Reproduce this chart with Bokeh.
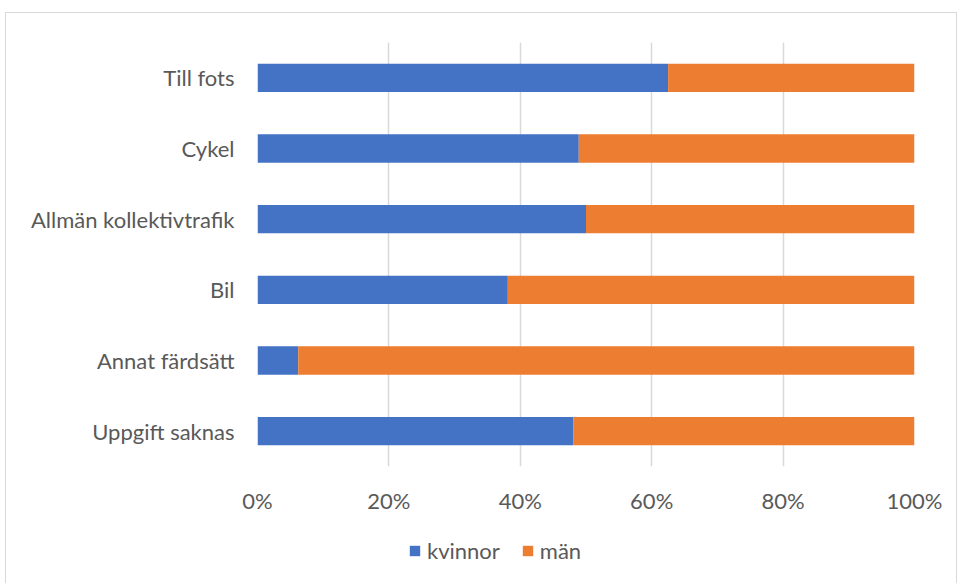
from bokeh.plotting import figure
from bokeh.layouts import column
from bokeh.models import ColumnDataSource, FactorRange, Range1d, FixedTicker, PrintfTickFormatter, Legend, LegendItem
from bokeh.embed import file_html
from bokeh.resources import INLINE

categories = ["Till fots", "Cykel", "Allmän kollektivtrafik", "Bil", "Annat färdsätt", "Uppgift saknas"]
kvinnor = [62.5, 48.9, 50.0, 38.1, 6.2, 48.1]
man = [37.5, 51.1, 50.0, 61.9, 93.8, 51.9]
series_names = ["kvinnor", "män"]
colors = ["#4472C4", "#ED7D31"]
x_ticks = [0, 20, 40, 60, 80, 100]

FONT = "Lato"
TXT = "#595959"

source = ColumnDataSource(data=dict(cat=categories, kvinnor=kvinnor, man=man))

p = figure(
    y_range=FactorRange(*categories[::-1], range_padding=0),
    x_range=Range1d(0, 100),
    frame_width=657, frame_height=424,
    min_border_left=251, min_border_right=42, min_border_top=29, min_border_bottom=0,
    output_backend="svg", toolbar_location=None,
)
p.y_range.factor_padding = 0
p.outline_line_color = None

r = p.hbar_stack(["kvinnor", "man"], y="cat", height=0.40, color=colors, source=source,
                 line_width=0)

p.xaxis.ticker = FixedTicker(ticks=x_ticks)
p.xaxis.formatter = PrintfTickFormatter(format="%d%%")
p.xgrid.ticker = FixedTicker(ticks=x_ticks)
p.xgrid.grid_line_color = "#d9d9d9"
p.xgrid.grid_line_width = 1.5
p.ygrid.grid_line_color = None

for ax in (p.xaxis[0], p.yaxis[0]):
    ax.axis_line_color = None
    ax.major_tick_line_color = None
    ax.minor_tick_line_color = None
    ax.major_label_text_font = FONT
    ax.major_label_text_font_size = "22px"
    ax.major_label_text_color = TXT
    ax.major_tick_out = 0
    ax.major_tick_in = 0
p.xaxis.major_label_standoff = 20
p.yaxis.major_label_standoff = 23

# legend strip (same data; its glyph renderers are hidden, only the legend shows)
p2 = figure(
    y_range=FactorRange(*categories[::-1]),
    x_range=Range1d(1000, 1100),
    width=950, height=75,
    min_border_left=0, min_border_right=0, min_border_top=0, min_border_bottom=0,
    x_axis_type=None, y_axis_type=None,
    output_backend="svg", toolbar_location=None,
)
p2.outline_line_color = None
p2.grid.visible = False
r2 = p2.hbar_stack(["kvinnor", "man"], y="cat", height=0.40, color=colors, source=source,
                   line_width=0, line_color=None)
for rr in r2:
    rr.visible = False

legend = Legend(
    items=[LegendItem(label=series_names[i], renderers=[r2[i]]) for i in range(2)],
    location=(151, 27), orientation="horizontal",
    glyph_width=13, glyph_height=13, label_standoff=6, spacing=21, padding=0, margin=0,
    label_text_font=FONT, label_text_font_size="22px", label_text_color=TXT,
    border_line_color=None, background_fill_alpha=0, inactive_fill_alpha=0,
)
p2.add_layout(legend, "center")

layout = column(p, p2, spacing=0,
                styles={"border": "1.5px solid #d9d9d9", "margin-left": "5px", "margin-top": "12px"})

open("out.html", "w").write(file_html(layout, INLINE))
